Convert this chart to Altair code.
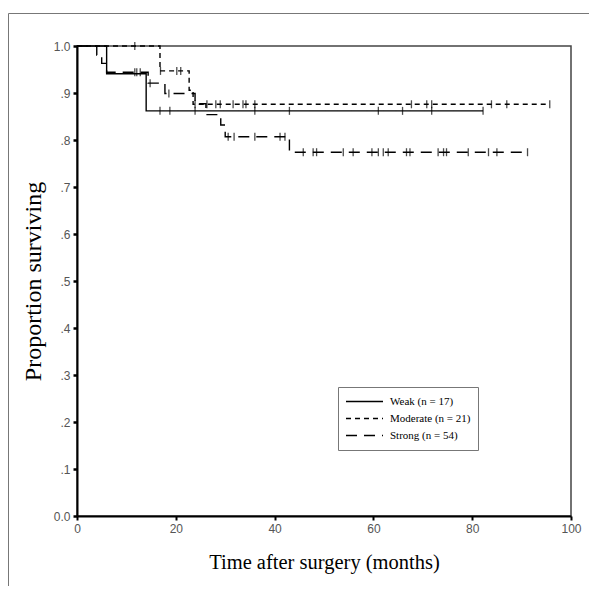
import altair as alt
import pandas as pd

groups = ["Weak (n = 17)", "Moderate (n = 21)", "Strong (n = 54)"]

weak_time = [0, 6.0, 14.0, 82.2]
weak_surv = [1.0, 0.941, 0.862, 0.862]
moderate_time = [0, 16.8, 22.7, 23.5, 95.7]
moderate_surv = [1.0, 0.947, 0.906, 0.876, 0.876]
strong_time = [0, 4.0, 5.0, 6.0, 14.4, 17.8, 23.9, 26.1, 29.1, 30.0, 43.0, 91.2]
strong_surv = [1.0, 0.981, 0.963, 0.944, 0.921, 0.899, 0.877, 0.854, 0.832, 0.807, 0.774, 0.774]

weak_censored = [16.8, 18.8, 23.9, 36.0, 43.0, 61.0, 65.9, 71.8, 82.2]
moderate_censored = [11.7, 16.9, 20.2, 21.0, 23.9, 26.3, 28.1, 29.0, 31.6, 33.6, 34.2, 36.0,
                     67.7, 70.8, 71.8, 83.9, 87.0, 95.7]
strong_censored = [11.7, 12.1, 12.8, 14.8, 18.6, 30.6, 31.8, 36.0, 41.1, 42.1,
                   45.8, 47.8, 48.5, 53.9, 55.9, 59.7, 61.0, 62.0, 63.0, 66.7, 67.4,
                   73.1, 74.2, 74.8, 79.2, 83.3, 85.0, 91.2]

x_ticks = [0, 20, 40, 60, 80, 100]
y_ticks = [0.0, 0.1, 0.2, 0.3, 0.4, 0.5, 0.6, 0.7, 0.8, 0.9, 1.0]


def surv_at(times, survs, t):
    val = survs[0]
    for ti, si in zip(times, survs):
        if t >= ti:
            val = si
    return val


steps = []
cens = []
for g, tt, ss, cc in [
    (groups[0], weak_time, weak_surv, weak_censored),
    (groups[1], moderate_time, moderate_surv, moderate_censored),
    (groups[2], strong_time, strong_surv, strong_censored),
]:
    for t, s in zip(tt, ss):
        steps.append({"group": g, "time": t, "surv": s})
    for t in cc:
        cens.append({"group": g, "time": t, "surv": surv_at(tt, ss, t)})

steps_df = pd.DataFrame(steps)
cens_df = pd.DataFrame(cens)

xscale = alt.Scale(domain=[0, 100], nice=False)
yscale = alt.Scale(domain=[0, 1], nice=False)

y_label_expr = ("datum.value == 0 ? '0.0' : datum.value == 1 ? '1.0' : "
                "replace(format(datum.value, '.1f'), '0.', '.')")

x_axis = alt.Axis(values=x_ticks, title="Time after surgery (months)", grid=False,
                  tickSize=4, tickWidth=2, tickColor="black", domainColor="black",
                  domainWidth=2, labelFont="Liberation Sans", labelFontSize=12,
                  labelColor="#555", labelPadding=3, labelFlush=False,
                  titleFont="Liberation Serif",
                  titleFontSize=20.5, titleFontWeight="normal", titleColor="black",
                  titlePadding=18)
y_axis = alt.Axis(values=y_ticks, title="Proportion surviving", grid=False,
                  labelExpr=y_label_expr, tickSize=4, tickWidth=2.5, tickColor="black",
                  domainColor="black", domainWidth=2, labelFont="Liberation Sans",
                  labelFontSize=12, labelColor="#555", labelPadding=3, labelFlush=False,
                  titleFont="Liberation Serif", titleFontSize=24,
                  titleFontWeight="normal", titleColor="black", titlePadding=8)

frame = alt.Chart(pd.DataFrame({"k": [0]})).mark_rect(
    filled=False, stroke="#777", strokeWidth=1
).encode(
    x=alt.value(-68.5), x2=alt.value(700), y=alt.value(-32.5), y2=alt.value(700)
)

lines = alt.Chart(steps_df).mark_line(interpolate="step-after", color="black",
                                       strokeWidth=1.4).encode(
    x=alt.X("time:Q", scale=xscale, axis=x_axis),
    y=alt.Y("surv:Q", scale=yscale, axis=y_axis),
    strokeDash=alt.StrokeDash(
        "group:N",
        scale=alt.Scale(domain=groups, range=[[1, 0], [5, 4], [11, 7]]),
        legend=alt.Legend(
            title=None, orient="none", legendX=261, legendY=341,
            strokeColor="#777", fillColor="white", padding=7,
            labelFont="Liberation Serif", labelFontSize=11, labelColor="black",
            symbolType="stroke", symbolSize=1369, symbolStrokeWidth=1.5,
            symbolStrokeColor="black", clipHeight=15, rowPadding=2,
            labelOffset=6, cornerRadius=0,
        ),
    ),
    order="time:Q",
)

ticks = alt.Chart(cens_df).mark_tick(orient="vertical", size=8, thickness=1.3,
                                     color="black").encode(
    x=alt.X("time:Q", scale=xscale),
    y=alt.Y("surv:Q", scale=yscale),
)

chart = alt.layer(frame, lines, ticks).properties(
    width=494, height=470,
    padding={"left": 69, "top": 38, "right": 18, "bottom": 70},
    autosize=alt.AutoSizeParams(type="none"),
).configure_view(stroke="#444", strokeWidth=1.5)

chart.save("out.html", embed_options={"renderer": "svg", "actions": False})
